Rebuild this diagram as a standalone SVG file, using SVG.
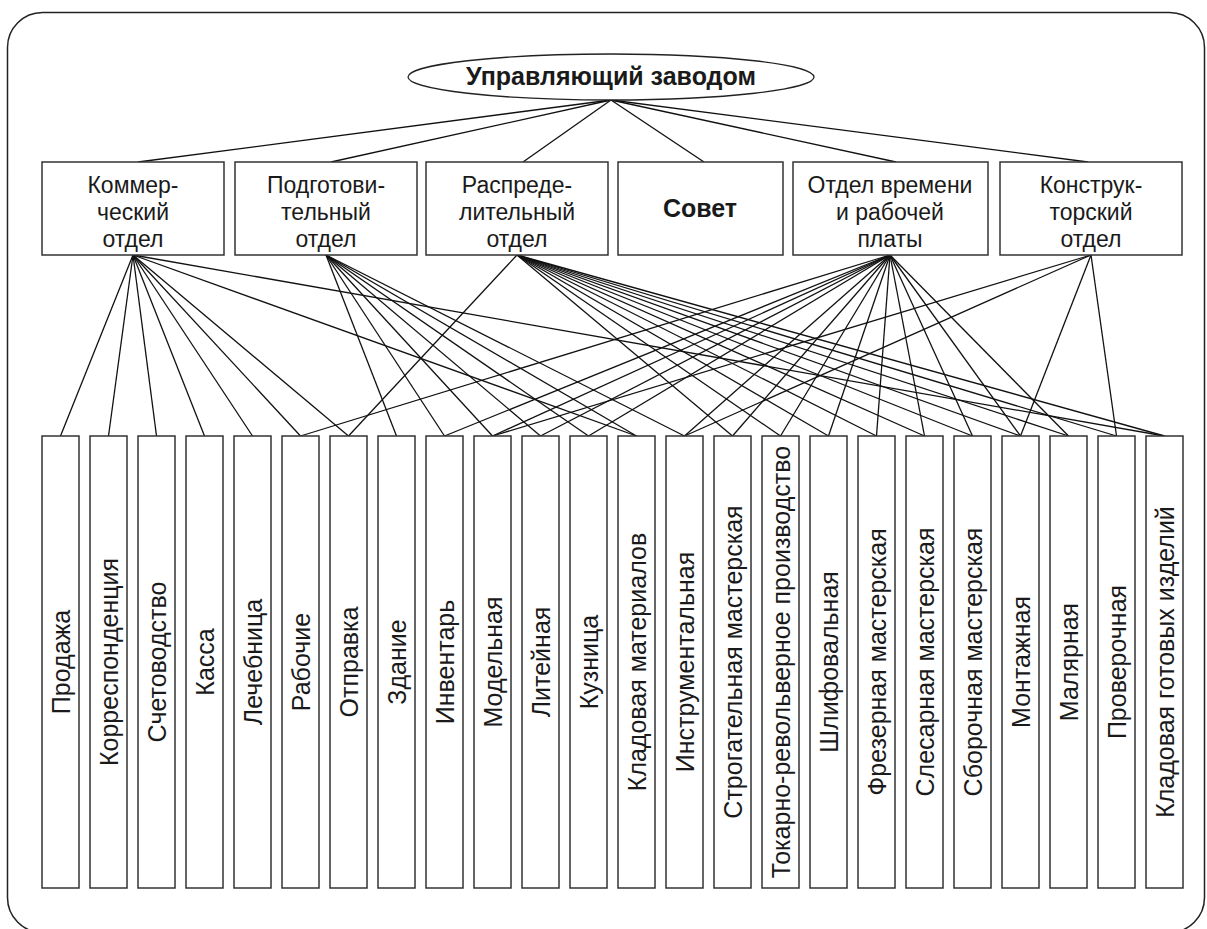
<svg xmlns="http://www.w3.org/2000/svg" width="1207" height="929" viewBox="0 0 1207 929">
<style>
.frame{fill:none;stroke:#222;stroke-width:1.5}
.box{fill:#fff;stroke:#333;stroke-width:1.5}
.t{font-family:"Liberation Sans",Arial,sans-serif;font-size:25px;fill:#1a1a1a;text-anchor:middle}
.h{font-size:23px}
.b{font-weight:bold}
.cn line{stroke:#111;stroke-width:1.3}
</style>
<rect width="1207" height="929" fill="#fff"/>
<rect class="frame" x="7.5" y="12.5" width="1197" height="920" rx="35" ry="35"/>
<g id="connectors" class="cn">
<line x1="611" y1="100" x2="138" y2="162"/>
<line x1="611" y1="100" x2="331" y2="162"/>
<line x1="611" y1="100" x2="523" y2="162"/>
<line x1="611" y1="100" x2="704" y2="162"/>
<line x1="611" y1="100" x2="896" y2="162"/>
<line x1="611" y1="100" x2="1088" y2="162"/>
<line x1="133" y1="255" x2="60.5" y2="436"/>
<line x1="133" y1="255" x2="108.5" y2="436"/>
<line x1="133" y1="255" x2="156.5" y2="436"/>
<line x1="133" y1="255" x2="204.5" y2="436"/>
<line x1="133" y1="255" x2="252.5" y2="436"/>
<line x1="133" y1="255" x2="300.5" y2="436"/>
<line x1="133" y1="255" x2="348.5" y2="436"/>
<line x1="133" y1="255" x2="636.5" y2="436"/>
<line x1="133" y1="255" x2="1164.5" y2="436"/>
<line x1="326" y1="255" x2="396.5" y2="436"/>
<line x1="326" y1="255" x2="444.5" y2="436"/>
<line x1="326" y1="255" x2="492.5" y2="436"/>
<line x1="326" y1="255" x2="540.5" y2="436"/>
<line x1="326" y1="255" x2="588.5" y2="436"/>
<line x1="326" y1="255" x2="636.5" y2="436"/>
<line x1="326" y1="255" x2="684.5" y2="436"/>
<line x1="517" y1="255" x2="348.5" y2="436"/>
<line x1="517" y1="255" x2="732.5" y2="436"/>
<line x1="517" y1="255" x2="780.5" y2="436"/>
<line x1="517" y1="255" x2="828.5" y2="436"/>
<line x1="517" y1="255" x2="876.5" y2="436"/>
<line x1="517" y1="255" x2="924.5" y2="436"/>
<line x1="517" y1="255" x2="972.5" y2="436"/>
<line x1="517" y1="255" x2="1020.5" y2="436"/>
<line x1="517" y1="255" x2="1068.5" y2="436"/>
<line x1="517" y1="255" x2="1116.5" y2="436"/>
<line x1="517" y1="255" x2="1164.5" y2="436"/>
<line x1="890" y1="255" x2="300.5" y2="436"/>
<line x1="890" y1="255" x2="444.5" y2="436"/>
<line x1="890" y1="255" x2="492.5" y2="436"/>
<line x1="890" y1="255" x2="540.5" y2="436"/>
<line x1="890" y1="255" x2="588.5" y2="436"/>
<line x1="890" y1="255" x2="684.5" y2="436"/>
<line x1="890" y1="255" x2="732.5" y2="436"/>
<line x1="890" y1="255" x2="780.5" y2="436"/>
<line x1="890" y1="255" x2="828.5" y2="436"/>
<line x1="890" y1="255" x2="876.5" y2="436"/>
<line x1="890" y1="255" x2="924.5" y2="436"/>
<line x1="890" y1="255" x2="972.5" y2="436"/>
<line x1="890" y1="255" x2="1020.5" y2="436"/>
<line x1="890" y1="255" x2="1068.5" y2="436"/>
<line x1="1091" y1="255" x2="492.5" y2="436"/>
<line x1="1091" y1="255" x2="684.5" y2="436"/>
<line x1="1091" y1="255" x2="1020.5" y2="436"/>
<line x1="1091" y1="255" x2="1116.5" y2="436"/>
</g>
<g id="n-head">
<ellipse cx="611" cy="77" rx="203" ry="23" fill="#fff" stroke="#222" stroke-width="1.3"/>
<text class="t b" x="611" y="85" font-size="23">Управляющий заводом</text>
</g>
<g id="n-kom"><rect class="box" x="42" y="162" width="182" height="93"/><text class="t h" x="133" y="193">Коммер-</text><text class="t h" x="133" y="220">ческий</text><text class="t h" x="133" y="247">отдел</text></g>
<g id="n-pod"><rect class="box" x="235" y="162" width="182" height="93"/><text class="t h" x="326" y="193">Подготови-</text><text class="t h" x="326" y="220">тельный</text><text class="t h" x="326" y="247">отдел</text></g>
<g id="n-ras"><rect class="box" x="426" y="162" width="182" height="93"/><text class="t h" x="517" y="193">Распреде-</text><text class="t h" x="517" y="220">лительный</text><text class="t h" x="517" y="247">отдел</text></g>
<g id="n-sov"><rect class="box" x="618" y="162" width="165" height="93"/><text class="t b" x="700" y="217" font-size="24">Совет</text></g>
<g id="n-vr"><rect class="box" x="793" y="162" width="195" height="93"/><text class="t h" x="890" y="193">Отдел времени</text><text class="t h" x="890" y="220">и рабочей</text><text class="t h" x="890" y="247">платы</text></g>
<g id="n-kon"><rect class="box" x="1000" y="162" width="182" height="93"/><text class="t h" x="1091" y="193">Конструк-</text><text class="t h" x="1091" y="220">торский</text><text class="t h" x="1091" y="247">отдел</text></g>
<g id="n-b0"><rect class="box" x="42" y="436" width="37" height="452"/><text class="t" transform="translate(69.5 662) rotate(-90)">Продажа</text></g>
<g id="n-b1"><rect class="box" x="90" y="436" width="37" height="452"/><text class="t" transform="translate(117.5 662) rotate(-90)">Корреспонденция</text></g>
<g id="n-b2"><rect class="box" x="138" y="436" width="37" height="452"/><text class="t" transform="translate(165.5 662) rotate(-90)">Счетоводство</text></g>
<g id="n-b3"><rect class="box" x="186" y="436" width="37" height="452"/><text class="t" transform="translate(213.5 662) rotate(-90)">Касса</text></g>
<g id="n-b4"><rect class="box" x="234" y="436" width="37" height="452"/><text class="t" transform="translate(261.5 662) rotate(-90)">Лечебница</text></g>
<g id="n-b5"><rect class="box" x="282" y="436" width="37" height="452"/><text class="t" transform="translate(309.5 662) rotate(-90)">Рабочие</text></g>
<g id="n-b6"><rect class="box" x="330" y="436" width="37" height="452"/><text class="t" transform="translate(357.5 662) rotate(-90)">Отправка</text></g>
<g id="n-b7"><rect class="box" x="378" y="436" width="37" height="452"/><text class="t" transform="translate(405.5 662) rotate(-90)">Здание</text></g>
<g id="n-b8"><rect class="box" x="426" y="436" width="37" height="452"/><text class="t" transform="translate(453.5 662) rotate(-90)">Инвентарь</text></g>
<g id="n-b9"><rect class="box" x="474" y="436" width="37" height="452"/><text class="t" transform="translate(501.5 662) rotate(-90)">Модельная</text></g>
<g id="n-b10"><rect class="box" x="522" y="436" width="37" height="452"/><text class="t" transform="translate(549.5 662) rotate(-90)">Литейная</text></g>
<g id="n-b11"><rect class="box" x="570" y="436" width="37" height="452"/><text class="t" transform="translate(597.5 662) rotate(-90)">Кузница</text></g>
<g id="n-b12"><rect class="box" x="618" y="436" width="37" height="452"/><text class="t" transform="translate(645.5 662) rotate(-90)">Кладовая материалов</text></g>
<g id="n-b13"><rect class="box" x="666" y="436" width="37" height="452"/><text class="t" transform="translate(693.5 662) rotate(-90)">Инструментальная</text></g>
<g id="n-b14"><rect class="box" x="714" y="436" width="37" height="452"/><text class="t" transform="translate(741.5 662) rotate(-90)">Строгательная мастерская</text></g>
<g id="n-b15"><rect class="box" x="762" y="436" width="37" height="452"/><text class="t" transform="translate(789.5 662) rotate(-90)">Токарно-револьверное производство</text></g>
<g id="n-b16"><rect class="box" x="810" y="436" width="37" height="452"/><text class="t" transform="translate(837.5 662) rotate(-90)">Шлифовальная</text></g>
<g id="n-b17"><rect class="box" x="858" y="436" width="37" height="452"/><text class="t" transform="translate(885.5 662) rotate(-90)">Фрезерная мастерская</text></g>
<g id="n-b18"><rect class="box" x="906" y="436" width="37" height="452"/><text class="t" transform="translate(933.5 662) rotate(-90)">Слесарная мастерская</text></g>
<g id="n-b19"><rect class="box" x="954" y="436" width="37" height="452"/><text class="t" transform="translate(981.5 662) rotate(-90)">Сборочная мастерская</text></g>
<g id="n-b20"><rect class="box" x="1002" y="436" width="37" height="452"/><text class="t" transform="translate(1029.5 662) rotate(-90)">Монтажная</text></g>
<g id="n-b21"><rect class="box" x="1050" y="436" width="37" height="452"/><text class="t" transform="translate(1077.5 662) rotate(-90)">Малярная</text></g>
<g id="n-b22"><rect class="box" x="1098" y="436" width="37" height="452"/><text class="t" transform="translate(1125.5 662) rotate(-90)">Проверочная</text></g>
<g id="n-b23"><rect class="box" x="1146" y="436" width="37" height="452"/><text class="t" transform="translate(1173.5 662) rotate(-90)">Кладовая готовых изделий</text></g>
</svg>
